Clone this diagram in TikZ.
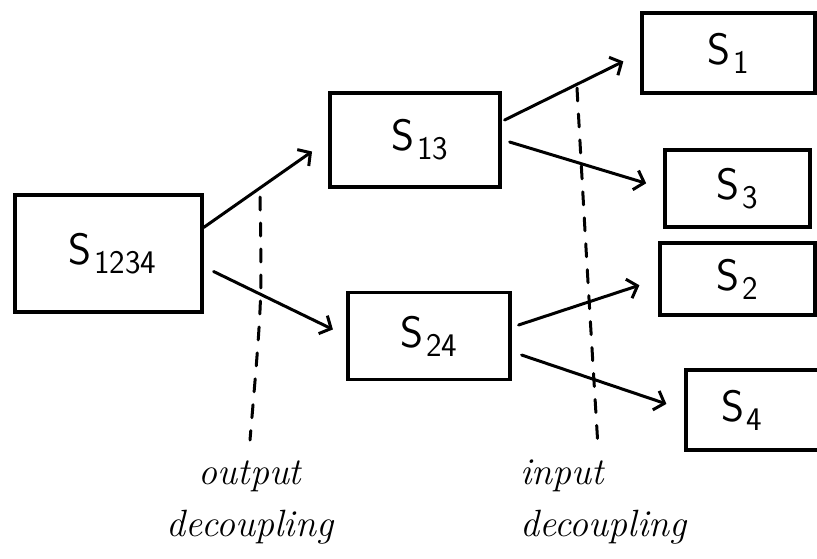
\documentclass[tikz,border=0pt]{standalone}
\usepackage{fontspec}
\usetikzlibrary{arrows.meta}
\newcommand\Sbox[1]{{\fontsize{44}{44}\selectfont S}\kern3pt\raisebox{-9pt}{\fontsize{33}{33}\selectfont\addfontfeature{LetterSpace=20}#1}}
\begin{document}
\begin{tikzpicture}[x=1pt,y=-1pt]
\tikzset{
 sbox/.style={draw, line width=3.2pt, inner sep=0pt, font=\sffamily},
 link/.style={line width=3pt, line cap=round, -{Straight Barb[length=9pt,width=20pt,line width=3pt]}},
 decline/.style={line width=3pt, dash pattern=on 13pt off 13pt, line cap=round},
 lab/.style={font=\fontsize{38}{52}\selectfont\itshape, inner sep=0pt}
}
\useasboundingbox (0,0) rectangle (817,558);
\clip (0,0) rectangle (817,558);
% boxes
\node[sbox, minimum width=187pt, minimum height=117pt] (s1234) at (108.5,253.5) {\hspace*{8pt}\Sbox{1234}};
\node[sbox, minimum width=170pt, minimum height=94pt] (s13) at (415,140) {\hspace*{10pt}\Sbox{13}};
\node[sbox, minimum width=162pt, minimum height=87pt] (s24) at (429,336) {\Sbox{24}};
\node[sbox, minimum width=173pt, minimum height=80pt] (s1) at (728.5,53) {\Sbox{1}};
\node[sbox, minimum width=145pt, minimum height=77pt] (s3) at (737.5,188.5) {\Sbox{3}};
\node[sbox, minimum width=155pt, minimum height=72pt] (s2) at (737.5,279) {\Sbox{2}};
\node[sbox, minimum width=160pt, minimum height=80pt, text width=130pt, align=left] (s4) at (766,410) {\hspace*{20pt}\Sbox{4}};
% connectors
\draw[link, shorten >=20pt] ([yshift=26pt]s1234.east) -- (s13.west);
\draw[link, shorten >=15pt] ([xshift=10pt,yshift=-18pt]s1234.east) -- (s24.west);
\draw[link, shorten >=19pt] ([xshift=3pt,yshift=20pt]s13.east) -- (s1.west);
\draw[link, shorten >=18pt] ([xshift=8pt,yshift=-2pt]s13.east) -- (s3.west);
\draw[link, shorten >=20pt] ([xshift=7pt,yshift=11pt]s24.east) -- (s2.west);
\draw[link, shorten >=19pt] ([xshift=10pt,yshift=-19pt]s24.east) -- (s4.west);
% decoupling lines
\coordinate (oTop) at (260,197);
\coordinate (oMid) at (262,300);
\coordinate (oBot) at (250,440);
\coordinate (iTop) at (577,88);
\coordinate (iMid) at (586,250);
\coordinate (iBot) at (598,447);
\draw[decline] (oTop) .. controls (oMid) .. (oBot);
\draw[decline] (iTop) .. controls (iMid) .. (iBot);
% labels
\node[lab, align=center] (outlab) at (250,502) {output\\decoupling};
\node[lab, align=left, anchor=west] (inlab) at (520,502) {input\\decoupling};
\end{tikzpicture}
\end{document}
